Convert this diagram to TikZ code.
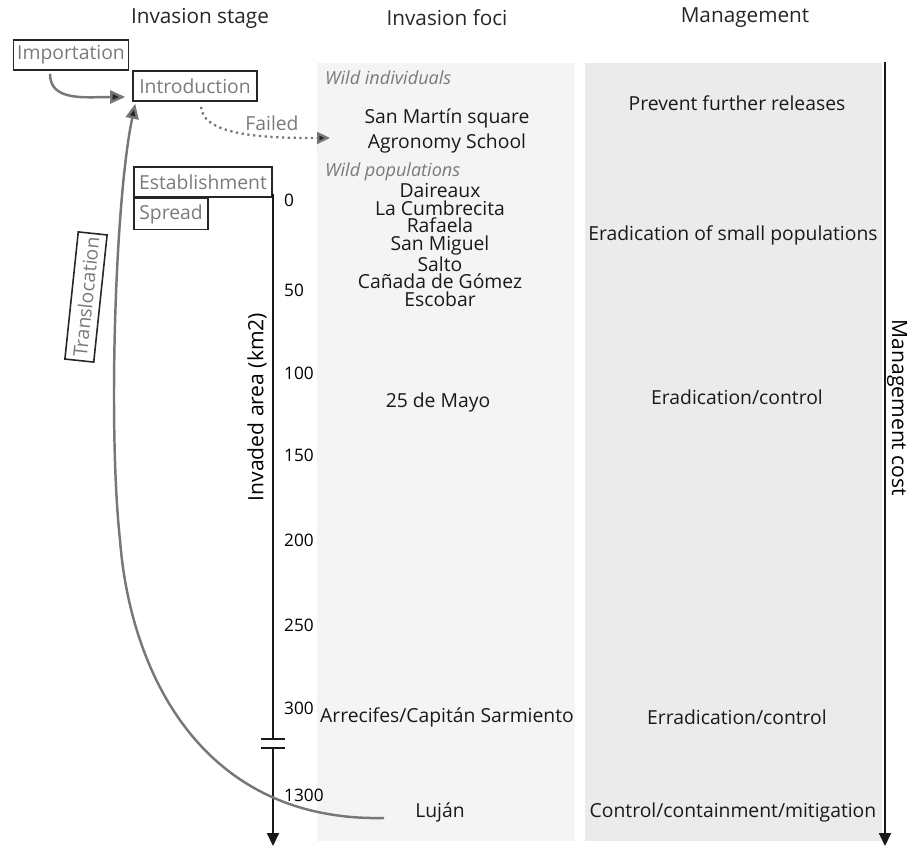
\documentclass[tikz,border=0pt]{standalone}
\usepackage{fontspec}
\setmainfont{Open Sans}
\usepackage{xcolor}
\usepackage{tikz}
\usetikzlibrary{arrows.meta, positioning, calc}
\definecolor{boxtext}{HTML}{7A7A7A}
\definecolor{curvegray}{HTML}{777777}
\definecolor{fociback}{HTML}{F4F4F4}
\definecolor{mgmtback}{HTML}{EBEBEB}
\tikzset{
  % Text styles
  header/.style={font=\fontsize{11.8}{13}\selectfont, text=black!85},
  plain/.style={font=\fontsize{11}{12}\selectfont, text=black!90},
  category/.style={font=\fontsize{10.3}{11}\selectfont\itshape, text=boxtext, anchor=west},
  ticklabel/.style={font=\fontsize{9.8}{10}\selectfont, anchor=west},
  % Stage boxes
  stagebox/.style={rectangle, draw=black!85, line width=0.9pt, text=boxtext, font=\fontsize{11}{12}\selectfont, inner xsep=2pt, inner ysep=1pt, minimum height=0.6cm},
  % Connectors
  stagearrow/.style={draw=curvegray, line width=1.4pt, -{Triangle[length=3mm, width=2.6mm, fill=black!85]}},
  failarrow/.style={draw=curvegray, line width=1.3pt, dotted, -{Triangle[length=2.6mm, width=2.4mm, fill=black!85]}},
  axisline/.style={line width=1.2pt, draw=black!90},
}
\begin{document}
\begin{tikzpicture}[x=0.02cm, y=-0.02cm]
  \useasboundingbox (0,0) rectangle (917,847);

  % Background panels
  \fill[fociback] (317,63) rectangle (575,841);
  \fill[mgmtback] (585,63) rectangle (882,841);

  % Column headers
  \node[header] (hstage) at (200,18) {Invasion stage};
  \node[header] (hfoci) at (447,18) {Invasion foci};
  \node[header] (hmgmt) at (745,18) {Management};

  % Invasion stages
  \node[stagebox, minimum width=2.28cm] (imp) at (71,55) {Importation};
  \node[stagebox, minimum width=2.48cm] (intro) at (195,86) {Introduction};
  \node[stagebox, minimum width=2.76cm] (estab) at (203,182) {Establishment};
  \node[stagebox, anchor=north west, minimum width=1.48cm, minimum height=0.62cm] (spread) at (estab.south west) {Spread};

  \draw[stagearrow] ($(imp.south)+(-21,3)$) .. controls +(0,28) and +(-40,0) .. ($(intro.west)+(-7,11)$);

  % Failed releases
  \coordinate (failtip) at (330,138);
  \draw[failarrow] ($(intro.south)+(6,5)$) .. controls +(2,30) and +(-60,0) .. (failtip);
  \node[font=\fontsize{11}{12}\selectfont, text=boxtext] (failed) at (272,123) {Failed};

  % Invaded area axis
  \coordinate (axtop) at (273,194);
  \coordinate (brk1) at (273,739);
  \coordinate (brk2) at (273,748);
  \coordinate (axend) at (273,846);
  \draw[axisline] (axtop) -- (brk1);
  \draw[axisline, -{Triangle[length=2.6mm, width=2.4mm]}] (brk2) -- (axend);
  \draw[axisline] ($(brk1)+(-12,0)$) -- ($(brk1)+(12,0)$);
  \draw[axisline] ($(brk2)+(-12,0)$) -- ($(brk2)+(12,0)$);
  \foreach \v/\y in {0/200,50/290,100/373,150/455,200/540,250/625,300/708,1300/795} {
    \node[ticklabel] (t\v) at (278,\y) {\v};
  }
  \node[font=\fontsize{12}{13}\selectfont, rotate=90] (arealab) at (257,407) {Invaded area (km2)};

  % Management cost axis
  \coordinate (mtop) at (885,62);
  \coordinate (mend) at (885,846);
  \draw[axisline, -{Triangle[length=2.6mm, width=2.4mm]}] (mtop) -- (mend);
  \node[font=\fontsize{12}{13}\selectfont, rotate=-90] (costlab) at (897,408) {Management cost};

  % Invasion foci
  \node[category] (wildind) at (319,78) {Wild individuals};
  \node[plain] (sanmartin) at (447,118) {San Martín square};
  \node[plain] (agronomy) at (447,143) {Agronomy School};
  \node[category] (wildpop) at (319,172) {Wild populations};
  \node[plain, align=center, font=\fontsize{11}{10}\selectfont] (smallpops) at (440,245)
    {Daireaux\\La Cumbrecita\\Rafaela\\San Miguel\\Salto\\Cañada de Gómez\\Escobar};
  \node[plain] (mayo) at (438,402) {25 de Mayo};
  \node[plain] (arrecifes) at (447,717) {Arrecifes/Capitán Sarmiento};
  \node[plain] (lujan) at (440,812) {Luján};

  % Management actions
  \node[plain] (m1) at (737,103) {Prevent further releases};
  \node[plain] (m2) at (733,235) {Eradication of small populations};
  \node[plain] (m3) at (737,397) {Eradication/control};
  \node[plain] (m4) at (737,717) {Erradication/control};
  \node[plain] (m5) at (733,812) {Control/containment/mitigation};

  % Translocation
  \draw[stagearrow] ($(lujan.west)+(-25,6)$) .. controls (200,822) and (130,670) .. (120,540)
    .. controls (108,430) and (115,200) .. ($(intro.south west)+(3,2)$);
  \node[stagebox, rotate=84, minimum height=0.58cm] (transl) at (86,297) {Translocation};
\end{tikzpicture}
\end{document}
